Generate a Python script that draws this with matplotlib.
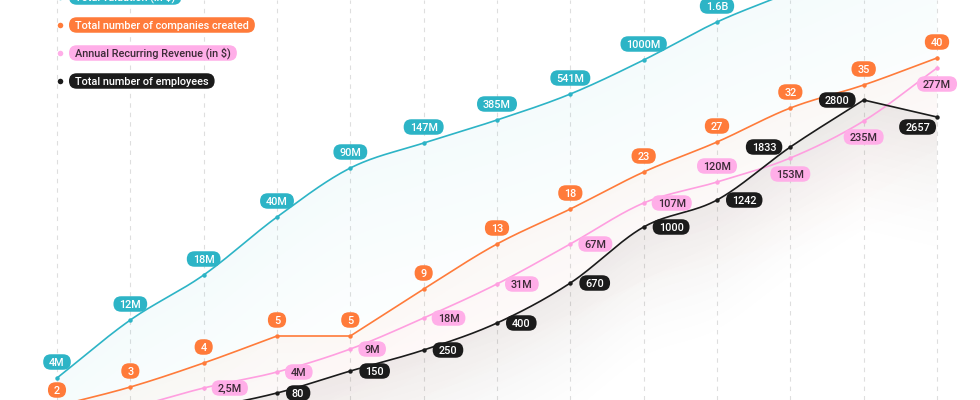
import numpy as np
import matplotlib
matplotlib.use("Agg")
import matplotlib.pyplot as plt
from matplotlib.colors import to_rgb
from matplotlib.patches import FancyBboxPatch
from matplotlib.transforms import IdentityTransform

plt.rcParams['font.family'] = ['Roboto', 'DejaVu Sans']

# ---------------- data ----------------
periods = list(range(13))

valuation_level = [22, 80, 125, 183, 232, 257, 280, 306, 340, 378, 408, 440, 470]
valuation_labels = ["4M", "12M", "18M", "40M", "90M", "147M", "385M", "541M", "1000M", "1.6B", "", "", ""]

companies_level = [-6, 13, 37, 64, 64, 111, 156, 191, 228, 258, 292, 315, 342]
companies_labels = ["2", "3", "4", "5", "5", "9", "13", "18", "23", "27", "32", "35", "40"]

arr_level = [-25, -8, 12, 28, 51, 82, 116, 156, 197, 218, 242, 279, 332]
arr_labels = ["", "", "2,5M", "4M", "9M", "18M", "31M", "67M", "107M", "120M", "153M", "235M", "277M"]

employees_level = [-30, -18, -8, 7, 29, 50, 77, 117, 173, 200, 253, 300, 283]
employees_labels = ["", "", "", "80", "150", "250", "400", "670", "1000", "1242", "1833", "2800", "2657"]

legend_names = ["Total valuation (in $)", "Total number of companies created",
                "Annual Recurring Revenue (in $)", "Total number of employees"]

# ---------------- styles ----------------
TEAL, ORANGE, PINK, BLACK = "#2db4c6", "#ff7b3a", "#ffaee8", "#1b1b1b"
PINK_LINE = "#ff9fe0"
PINK_TEXT = "#3b2a36"
arr_place = ["right"] * 9 + ["above", "below", "below", "below"]
emp_place = ["right"] * 10 + ["left", "left", "belowleft"]
WEIGHT = 500

W, H = 980, 400
fig = plt.figure(figsize=(W / 100, H / 100), dpi=100)
ax = fig.add_axes([0, 0, 1, 1])
x0, step = 57, 880 / 12
XL = (-x0 / step, (W - x0) / step)
YL = (0, H)
ax.set_xlim(*XL)
ax.set_ylim(*YL)
ax.axis("off")

# font size chosen so the legend text matches the reference width
renderer = fig.canvas.get_renderer()
probe = fig.text(0, 0, legend_names[1], fontsize=10, fontweight=WEIGHT)
pw = probe.get_window_extent(renderer).width
probe.remove()
FS = 10 * 174 / pw
CAP = 0.711 * FS * 100 / 72  # cap height in pixels
PADX, PILL_H = 6.0, 15.5


def smooth(x, y, n=30):
    """Catmull-Rom style path; keeps a corner at local extrema."""
    x = np.asarray(x, float); y = np.asarray(y, float)
    h = np.diff(x); d = np.diff(y) / h
    mL = np.zeros_like(y); mR = np.zeros_like(y)
    mL[0] = mR[0] = d[0]
    mL[-1] = mR[-1] = d[-1]
    for i in range(1, len(y) - 1):
        if d[i - 1] * d[i] <= 0:
            mL[i], mR[i] = d[i - 1], d[i]
        else:
            c = (y[i + 1] - y[i - 1]) / (x[i + 1] - x[i - 1])
            mL[i] = mR[i] = c
    xs, ys = [], []
    for i in range(len(x) - 1):
        t = np.linspace(0, 1, n, endpoint=(i == len(x) - 2))
        h00 = 2 * t**3 - 3 * t**2 + 1; h10 = t**3 - 2 * t**2 + t
        h01 = -2 * t**3 + 3 * t**2; h11 = t**3 - t**2
        xs.append(x[i] + t * h[i])
        ys.append(h00 * y[i] + h10 * h[i] * mR[i] + h01 * y[i + 1] + h11 * h[i] * mL[i + 1])
    return np.concatenate(xs), np.concatenate(ys)


GX = np.linspace(XL[0], XL[1], W)
GY = np.linspace(YL[1], YL[0], H)


def shade(xs, ys, color, a0, L, z, p=1.4):
    poly = ax.fill_between(xs, ys, -300, facecolor="none", edgecolor="none")
    line = np.interp(GX, xs, ys)
    d = line[None, :] - GY[:, None]
    a = np.where(d >= -2, a0 * np.clip(1 - np.maximum(d, 0) / L, 0, 1) ** p, 0)
    img = np.zeros((H, W, 4))
    img[..., :3] = to_rgb(color)
    img[..., 3] = a
    im = ax.imshow(img, aspect="auto", extent=[XL[0], XL[1], YL[0], YL[1]],
                   origin="upper", zorder=z, interpolation="bilinear")
    im.set_clip_path(poly.get_paths()[0], transform=ax.transData)


# grid
for p in periods:
    ax.axvline(p, color="#dedede", lw=0.8, ls=(0, (4, 4.5)), zorder=0.5)

series = [
    (valuation_level, TEAL, "#3cc0d0", 0.055, 260),
    (companies_level, ORANGE, "#ff8a50", 0.05, 170),
    (arr_level, PINK_LINE, "#ff9fd0", 0.025, 110),
    (employees_level, BLACK, "#000000", 0.065, 150),
]
for i, (lv, lc, fc, a0, L) in enumerate(series):
    xs, ys = smooth(periods, lv)
    shade(xs, ys, fc, a0, L, 1 + i * 0.1)
    ax.plot(xs, ys, color=lc, lw=1.2, zorder=3 + i * 0.1, solid_capstyle="round",
            solid_joinstyle="round")
    ax.plot(periods, lv, "o", color=lc, ms=3.2, mec="none", zorder=3.05 + i * 0.1)

pills = []  # (text artist, centre y in pixels, facecolor)


def pill_at_pixels(px, py, text, fc, tc, ha):
    t = ax.text(px, py - CAP / 2, text, transform=IdentityTransform(), ha=ha, va="baseline",
                fontsize=FS, fontweight=WEIGHT, color=tc, zorder=11)
    pills.append((t, py, fc))


def pill(x, y, text, fc, tc, dx, dy, ha):
    if not text:
        return
    px, py = ax.transData.transform((x, y))
    pill_at_pixels(px + dx, py + dy, text, fc, tc, ha)


for p, lv, t in zip(periods, valuation_level, valuation_labels):
    pill(p, lv, t, TEAL, "white", 0, 16, "center")
for p, lv, t in zip(periods, companies_level, companies_labels):
    pill(p, lv, t, ORANGE, "white", 0, 16, "center")
for p, lv, t, pl in zip(periods, arr_level, arr_labels, arr_place):
    if pl == "right":
        pill(p, lv, t, PINK, PINK_TEXT, 8 + PADX, 0, "left")
    elif pl == "above":
        pill(p, lv, t, PINK, PINK_TEXT, 0, 16, "center")
    else:
        pill(p, lv, t, PINK, PINK_TEXT, 0, -16, "center")
for p, lv, t, pl in zip(periods, employees_level, employees_labels, emp_place):
    if pl == "right":
        pill(p, lv, t, BLACK, "white", 9 + PADX, 0, "left")
    elif pl == "left":
        pill(p, lv, t, BLACK, "white", -8 - PADX, 0, "right")
    else:
        pill(p, lv, t, BLACK, "white", -1 - PADX, -10, "right")

# legend (top-left)
leg_colors = [TEAL, ORANGE, PINK, BLACK]
leg_text = ["white", "white", PINK_TEXT, "white"]
for k, (name, c, tc) in enumerate(zip(legend_names, leg_colors, leg_text)):
    ypix = H - (-3 + 28 * k)
    ax.plot([60], [ypix], "o", color=c, ms=4.0, mec="none", zorder=12,
            transform=IdentityTransform(), clip_on=False)
    pill_at_pixels(69 + PADX, ypix, name, c, tc, "left")

# build pill backgrounds from the measured text extents
fig.canvas.draw()
renderer = fig.canvas.get_renderer()
for t, cy, fc in pills:
    bb = t.get_window_extent(renderer)
    patch = FancyBboxPatch((bb.x0 - PADX, cy - PILL_H / 2), bb.width + 2 * PADX, PILL_H,
                           boxstyle="round,pad=0,rounding_size=%.2f" % (PILL_H / 2),
                           fc=fc, ec="none", transform=IdentityTransform(), zorder=10,
                           clip_on=False)
    ax.add_artist(patch)

fig.savefig("out.png", dpi=100, facecolor="white")
